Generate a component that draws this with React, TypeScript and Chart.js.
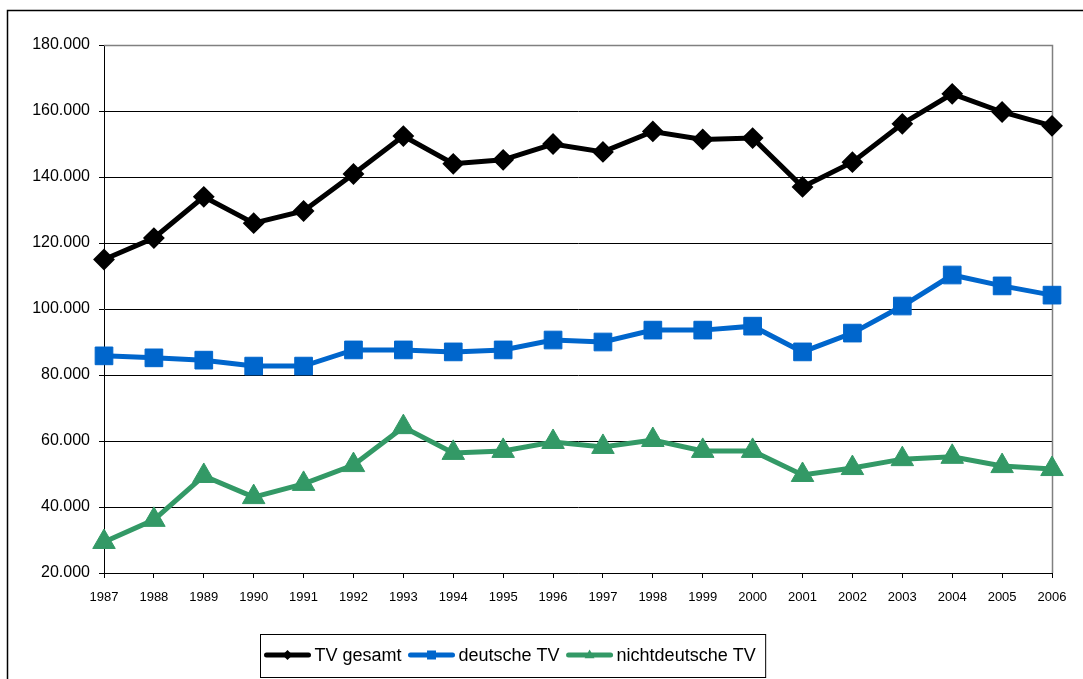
import React, { useEffect, useRef } from "react";
import { Chart, registerables } from "chart.js";

Chart.register(...registerables);

const years = [
  "1987", "1988", "1989", "1990", "1991", "1992", "1993", "1994", "1995", "1996",
  "1997", "1998", "1999", "2000", "2001", "2002", "2003", "2004", "2005", "2006",
];
const tvGesamt = [
  115000, 121500, 134000, 126000, 129700, 140900, 152400, 144000, 145200, 150000,
  147600, 153800, 151400, 151800, 137000, 144500, 156100, 165200, 159700, 155500,
];
const deutscheTV = [
  85800, 85200, 84500, 82700, 82700, 87600, 87600, 87000, 87600, 90600,
  90000, 93600, 93600, 94800, 87000, 92700, 100900, 110300, 107000, 104200,
];
const nichtdeutscheTV = [
  29400, 36100, 49400, 43000, 47000, 52700, 64200, 56400, 57000, 59700,
  58200, 60300, 57000, 57000, 49700, 51800, 54500, 55200, 52400, 51500,
];
const seriesNames = ["TV gesamt", "deutsche TV", "nichtdeutsche TV"];
const seriesColors = ["#000000", "#0066CC", "#339966"];
const seriesMarkers = ["rectRot", "rect", "triangle"];
const yMin = 20000;
const yMax = 180000;
const yStep = 20000;

const FONT = "'Liberation Sans', Arial, sans-serif";

const fmt = (v: number) => {
  const k = Math.round(v / 1000);
  return `${k}.000`;
};

function drawMarker(ctx: CanvasRenderingContext2D, style: string, x: number, y: number, s: number) {
  ctx.beginPath();
  if (style === "rectRot") {
    ctx.moveTo(x - s, y);
    ctx.lineTo(x, y - s);
    ctx.lineTo(x + s, y);
    ctx.lineTo(x, y + s);
  } else if (style === "rect") {
    ctx.rect(x - s, y - s, 2 * s, 2 * s);
  } else {
    ctx.moveTo(x, y - s * 1.2);
    ctx.lineTo(x + s * 1.1, y + s * 0.7);
    ctx.lineTo(x - s * 1.1, y + s * 0.7);
  }
  ctx.closePath();
  ctx.fill();
}

const framePlugin = {
  id: "frame",
  beforeDraw(chart: any) {
    const ctx = chart.ctx as CanvasRenderingContext2D;
    ctx.save();
    ctx.fillStyle = "#ffffff";
    ctx.fillRect(0, 0, chart.width, chart.height);
    ctx.strokeStyle = "#000000";
    ctx.lineWidth = 1.5;
    ctx.beginPath();
    ctx.moveTo(7.5, chart.height + 5);
    ctx.lineTo(7.5, 10.5);
    ctx.lineTo(chart.width + 5, 10.5);
    ctx.stroke();
    ctx.restore();
  },
  beforeDatasetsDraw(chart: any) {
    const ctx = chart.ctx as CanvasRenderingContext2D;
    const a = chart.chartArea;
    ctx.save();
    ctx.strokeStyle = "#808080";
    ctx.lineWidth = 1.5;
    ctx.beginPath();
    ctx.moveTo(a.left, a.top + 0.5);
    ctx.lineTo(a.right + 0.5, a.top + 0.5);
    ctx.lineTo(a.right + 0.5, a.bottom);
    ctx.stroke();
    ctx.restore();
  },
  afterDraw(chart: any) {
    const ctx = chart.ctx as CanvasRenderingContext2D;
    ctx.save();
    ctx.font = `18px ${FONT}`;
    const lineLen = 48;
    const gapText = 3;
    const gapItem = 6;
    const padL = 3;
    const padR = 10;
    const widths = seriesNames.map((n) => ctx.measureText(n).width);
    const total =
      padL + padR + widths.reduce((s, w) => s + w, 0) + seriesNames.length * (lineLen + gapText) + gapItem * (seriesNames.length - 1);
    const cx = 512.5;
    const boxL = Math.round(cx - total / 2) + 0.5;
    const boxT = 634.5;
    const boxH = 43;
    ctx.fillStyle = "#ffffff";
    ctx.fillRect(boxL, boxT, total, boxH);
    ctx.strokeStyle = "#000000";
    ctx.lineWidth = 1;
    ctx.strokeRect(boxL, boxT, total, boxH);
    const cy = boxT + boxH / 2 - 1;
    let x = boxL + padL;
    ctx.textBaseline = "middle";
    ctx.textAlign = "left";
    seriesNames.forEach((name, i) => {
      const col = seriesColors[i];
      ctx.strokeStyle = col;
      ctx.fillStyle = col;
      ctx.lineWidth = 5;
      ctx.lineCap = "round";
      ctx.beginPath();
      ctx.moveTo(x + 3, cy);
      ctx.lineTo(x + lineLen - 3, cy);
      ctx.stroke();
      drawMarker(ctx, seriesMarkers[i], x + lineLen / 2, cy, i === 0 ? 5 : 4.5);
      x += lineLen + gapText;
      ctx.fillStyle = "#000000";
      ctx.fillText(name, x, cy + 1);
      x += widths[i] + gapItem;
    });
    ctx.restore();
  },
};

export default function App() {
  const ref = useRef<HTMLCanvasElement | null>(null);

  useEffect(() => {
    if (!ref.current) return;
    const seriesData = [tvGesamt, deutscheTV, nichtdeutscheTV];
    const radii = [9.5, 12.5, 13];
    const chart = new Chart(ref.current, {
      type: "line",
      data: {
        labels: years,
        datasets: seriesNames.map((name, i) => ({
          label: name,
          data: seriesData[i],
          borderColor: seriesColors[i],
          backgroundColor: seriesColors[i],
          borderWidth: 5,
          pointStyle: seriesMarkers[i] as any,
          pointRadius: radii[i],
          pointBorderWidth: i === 0 ? 2 : 1,
          pointBackgroundColor: seriesColors[i],
          pointBorderColor: seriesColors[i],
          tension: 0,
          fill: false,
        })),
      },
      options: {
        responsive: false,
        animation: false,
        devicePixelRatio: 1,
        layout: { padding: { left: 0, top: 45, right: 31, bottom: 0 } },
        plugins: {
          legend: { display: false },
          tooltip: { enabled: false },
          title: { display: false },
        },
        scales: {
          x: {
            type: "category",
            offset: false,
            border: { display: true, color: "#000000", width: 1 },
            grid: {
              drawOnChartArea: false,
              drawTicks: true,
              tickLength: 5,
              color: "#000000",
              tickColor: "#000000",
            },
            ticks: {
              autoSkip: false,
              maxRotation: 0,
              minRotation: 0,
              padding: 12,
              color: "#000000",
              font: { family: FONT, size: 13 },
            },
            afterFit: (s: any) => {
              s.height = 106;
              s.paddingLeft = 0;
              s.paddingRight = 0;
            },
          },
          y: {
            min: yMin,
            max: yMax,
            border: { display: true, color: "#000000", width: 1 },
            grid: {
              color: (c: any) => (c.tick && c.tick.value === yMax ? "#808080" : "#000000"),
              tickColor: "#000000",
              tickLength: 5,
              lineWidth: 1,
            },
            ticks: {
              stepSize: yStep,
              padding: 9,
              color: "#000000",
              font: { family: FONT, size: 16 },
              callback: (v: any) => fmt(Number(v)),
            },
            afterFit: (s: any) => {
              s.width = 104;
              s.paddingTop = 0;
              s.paddingBottom = 0;
            },
          },
        },
      },
      plugins: [framePlugin],
    });
    return () => chart.destroy();
  }, []);

  return (
    <div style={{ position: "absolute", left: 0, top: 0, width: 1083, height: 679, background: "#fff" }}>
      <canvas ref={ref} width={1083} height={679} style={{ display: "block", width: 1083, height: 679 }} />
    </div>
  );
}
